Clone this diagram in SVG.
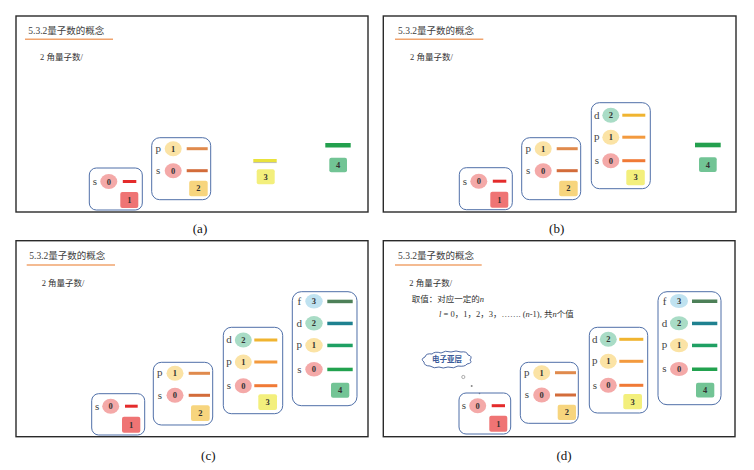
<svg xmlns="http://www.w3.org/2000/svg" width="754" height="470" viewBox="0 0 754 470">
<style>
.frame{fill:#fff;stroke:#2a2a2a;stroke-width:1.4}
.box{fill:none;stroke:#4f6fa8;stroke-width:1}
.t{font-family:"Liberation Serif","Noto Sans CJK SC",serif;fill:#333}
.title{font-size:9.5px;fill:#404040}
.sub{font-size:8.5px}
.ul{stroke:#f0a46e;stroke-width:1.6}
.lt{font-family:"Liberation Serif",serif;font-size:11px;fill:#444;text-anchor:middle}
.nm{font-family:"Liberation Serif",serif;font-size:8.5px;font-weight:bold;fill:#333;text-anchor:middle}
.cap{font-family:"Liberation Serif",serif;font-size:13px;fill:#111;text-anchor:middle}
.e0{fill:#f4a9a8}.e1{fill:#fbe3a5}.e2{fill:#a9dcc6}.e3{fill:#bfe2f0}
.n1{fill:#ef7474}.n2{fill:#f7d57e}.n3{fill:#f3ef7c}.n4{fill:#72c495}
.it{font-style:italic}
</style>

<!-- Panel (a) -->
<g id="panel-a">
<rect class="frame" x="16" y="16" width="352" height="196"/>
<text class="t title" x="28.3" y="33.5">5.3.2量子数的概念</text>
<line class="ul" x1="25" y1="39.3" x2="113" y2="39.3"/>
<text class="t sub" x="40" y="60">2 角量子数/</text>
<g id="a-n1" transform="translate(89.3,168)">
<rect class="box" x="0" y="0" width="53" height="42" rx="7"/>
<text class="lt" x="5.5" y="17">s</text>
<ellipse class="e0" cx="19.5" cy="13.5" rx="8.5" ry="7.5"/><text class="nm" x="19.5" y="16.5">0</text>
<rect x="33.5" y="12" width="13.5" height="3" fill="#e42b2b"/>
<rect class="n1" x="31" y="24" width="18" height="16" rx="2"/><text class="nm" x="40" y="35">1</text>
</g>
<g id="a-n2" transform="translate(151.7,137.7)">
<rect class="box" x="0" y="0" width="59" height="62" rx="8"/>
<text class="lt" x="6.5" y="14">p</text>
<ellipse class="e1" cx="21.5" cy="11" rx="8.5" ry="7.5"/><text class="nm" x="21.5" y="14">1</text>
<rect x="35" y="9.5" width="21" height="3" fill="#e08a4d"/>
<text class="lt" x="6.5" y="36.5">s</text>
<ellipse class="e0" cx="21.5" cy="33" rx="8.5" ry="7.5"/><text class="nm" x="21.5" y="36">0</text>
<rect x="35" y="31.5" width="21" height="3" fill="#d36c3a"/>
<rect class="n2" x="37.5" y="43" width="18.5" height="15.5" rx="2"/><text class="nm" x="46.75" y="53.8">2</text>
</g>
<g id="a-n3">
<rect x="253.3" y="159" width="23.4" height="3" fill="#e9e23c"/>
<line x1="253.3" y1="162.6" x2="276.7" y2="162.6" stroke="#a8a890" stroke-width="0.8"/>
<rect class="n3" x="256.7" y="169.3" width="18" height="15" rx="2"/><text class="nm" x="265.7" y="179.8">3</text>
</g>
<g id="a-n4">
<rect x="325.3" y="143" width="25.4" height="4.5" fill="#23a04e"/>
<rect class="n4" x="329.3" y="157.7" width="17.7" height="14.6" rx="2"/><text class="nm" x="338.2" y="168">4</text>
</g>
<text class="cap" x="200" y="233">(a)</text>
</g>

<!-- Panel (b) -->
<g id="panel-b">
<rect class="frame" x="383.3" y="16" width="352.7" height="196"/>
<text class="t title" x="398" y="33.5">5.3.2量子数的概念</text>
<line class="ul" x1="395" y1="39.3" x2="483.3" y2="39.3"/>
<text class="t sub" x="410" y="60">2 角量子数/</text>
<g id="b-n1" transform="translate(459.3,167.7)">
<rect class="box" x="0" y="0" width="53" height="42" rx="7"/>
<text class="lt" x="5.5" y="17">s</text>
<ellipse class="e0" cx="19.5" cy="13.5" rx="8.5" ry="7.5"/><text class="nm" x="19.5" y="16.5">0</text>
<rect x="33.5" y="12" width="13.5" height="3" fill="#e42b2b"/>
<rect class="n1" x="31" y="24" width="18" height="16" rx="2"/><text class="nm" x="40" y="35">1</text>
</g>
<g id="b-n2" transform="translate(521.7,137.7)">
<rect class="box" x="0" y="0" width="59" height="62" rx="8"/>
<text class="lt" x="6.5" y="14">p</text>
<ellipse class="e1" cx="21.5" cy="11" rx="8.5" ry="7.5"/><text class="nm" x="21.5" y="14">1</text>
<rect x="35" y="9.5" width="21" height="3" fill="#e08a4d"/>
<text class="lt" x="6.5" y="36.5">s</text>
<ellipse class="e0" cx="21.5" cy="33" rx="8.5" ry="7.5"/><text class="nm" x="21.5" y="36">0</text>
<rect x="35" y="31.5" width="21" height="3" fill="#d36c3a"/>
<rect class="n2" x="37.5" y="43" width="18.5" height="15.5" rx="2"/><text class="nm" x="46.75" y="53.8">2</text>
</g>
<g id="b-n3" transform="translate(591.3,102.7)">
<rect class="box" x="0" y="0" width="59" height="86" rx="8"/>
<text class="lt" x="5.5" y="16">d</text>
<ellipse class="e2" cx="19.5" cy="12.5" rx="8.5" ry="7.5"/><text class="nm" x="19.5" y="15.5">2</text>
<rect x="31" y="11" width="23" height="3" fill="#f0b430"/>
<text class="lt" x="5.5" y="37.5">p</text>
<ellipse class="e1" cx="19.5" cy="34.5" rx="8.5" ry="7.5"/><text class="nm" x="19.5" y="37.5">1</text>
<rect x="31" y="33" width="23" height="3" fill="#f39a3e"/>
<text class="lt" x="5.5" y="61.5">s</text>
<ellipse class="e0" cx="19.5" cy="58" rx="8.5" ry="7.5"/><text class="nm" x="19.5" y="61">0</text>
<rect x="31" y="56.5" width="23" height="3" fill="#f07a36"/>
<rect class="n3" x="35" y="67" width="18.5" height="15.5" rx="2"/><text class="nm" x="44.25" y="77.8">3</text>
</g>
<g id="b-n4">
<rect x="695" y="142.7" width="25.7" height="4.6" fill="#23a04e"/>
<rect class="n4" x="699" y="157.3" width="17.7" height="14.7" rx="2"/><text class="nm" x="707.8" y="167.7">4</text>
</g>
<text class="cap" x="556.7" y="233">(b)</text>
</g>

<!-- Panel (c) -->
<g id="panel-c">
<rect class="frame" x="16" y="240.7" width="352" height="196"/>
<text class="t title" x="29.3" y="258.5">5.3.2量子数的概念</text>
<line class="ul" x1="26.7" y1="265" x2="115" y2="265"/>
<text class="t sub" x="41.7" y="286">2 角量子数/</text>
<g id="c-n1" transform="translate(91.7,393.7)">
<rect class="box" x="0" y="0" width="53" height="41.3" rx="7"/>
<text class="lt" x="5.5" y="16">s</text>
<ellipse class="e0" cx="19" cy="12.5" rx="8.5" ry="7.5"/><text class="nm" x="19" y="15.5">0</text>
<rect x="33.3" y="11" width="12.7" height="3" fill="#e42b2b"/>
<rect class="n1" x="30.3" y="23" width="18.3" height="16" rx="2"/><text class="nm" x="39.5" y="34">1</text>
</g>
<g id="c-n2" transform="translate(153.3,362.3)">
<rect class="box" x="0" y="0" width="59.4" height="62.7" rx="8"/>
<text class="lt" x="6.5" y="14">p</text>
<ellipse class="e1" cx="21.7" cy="11" rx="8.5" ry="7.5"/><text class="nm" x="21.7" y="14">1</text>
<rect x="35.4" y="9.5" width="21.3" height="3" fill="#e08a4d"/>
<text class="lt" x="6.5" y="36.5">s</text>
<ellipse class="e0" cx="21.7" cy="33" rx="8.5" ry="7.5"/><text class="nm" x="21.7" y="36">0</text>
<rect x="35.4" y="31.5" width="21.3" height="3" fill="#d36c3a"/>
<rect class="n2" x="37.7" y="43" width="18.7" height="15.7" rx="2"/><text class="nm" x="47" y="54">2</text>
</g>
<g id="c-n3" transform="translate(223.3,327.3)">
<rect class="box" x="0" y="0" width="59.4" height="86.4" rx="8"/>
<text class="lt" x="5.7" y="16.2">d</text>
<ellipse class="e2" cx="20" cy="12.7" rx="8.5" ry="7.5"/><text class="nm" x="20" y="15.7">2</text>
<rect x="31" y="11.2" width="23" height="3" fill="#f0b430"/>
<text class="lt" x="5.7" y="37.7">p</text>
<ellipse class="e1" cx="20" cy="34.7" rx="8.5" ry="7.5"/><text class="nm" x="20" y="37.7">1</text>
<rect x="31" y="33.2" width="23" height="3" fill="#f39a3e"/>
<text class="lt" x="5.7" y="61.9">s</text>
<ellipse class="e0" cx="20" cy="58.4" rx="8.5" ry="7.5"/><text class="nm" x="20" y="61.4">0</text>
<rect x="31" y="56.9" width="23" height="3" fill="#f07a36"/>
<rect class="n3" x="35" y="67" width="18.7" height="15.7" rx="2"/><text class="nm" x="44.35" y="78">3</text>
</g>
<g id="c-n4" transform="translate(292.3,291.7)">
<rect class="box" x="0" y="0" width="64.7" height="114" rx="9"/>
<text class="lt" x="7" y="13.5">f</text>
<ellipse class="e3" cx="21.7" cy="9.6" rx="8.7" ry="7.3"/><text class="nm" x="21.7" y="12.6">3</text>
<rect x="35" y="8" width="25.4" height="3.5" fill="#4d8058"/>
<text class="lt" x="7" y="35.5">d</text>
<ellipse class="e2" cx="21.7" cy="31.6" rx="8.7" ry="7.3"/><text class="nm" x="21.7" y="34.6">2</text>
<rect x="35" y="30" width="25.4" height="3.5" fill="#1f8190"/>
<text class="lt" x="7" y="56.6">p</text>
<ellipse class="e1" cx="21.7" cy="53.6" rx="8.7" ry="7.3"/><text class="nm" x="21.7" y="56.6">1</text>
<rect x="35" y="52" width="25.4" height="3.5" fill="#1fa063"/>
<text class="lt" x="7" y="81">s</text>
<ellipse class="e0" cx="21.7" cy="77.6" rx="8.7" ry="7.3"/><text class="nm" x="21.7" y="80.6">0</text>
<rect x="35" y="76" width="25.4" height="3.5" fill="#22a24f"/>
<rect class="n4" x="38.7" y="91" width="18.3" height="15" rx="2"/><text class="nm" x="47.85" y="101.5">4</text>
</g>
<text class="cap" x="208.3" y="459.5">(c)</text>
</g>

<!-- Panel (d) -->
<g id="panel-d">
<rect class="frame" x="383.3" y="240.7" width="351.7" height="196"/>
<text class="t title" x="398" y="258.5">5.3.2量子数的概念</text>
<line class="ul" x1="395" y1="265" x2="481.7" y2="265"/>
<text class="t sub" x="409.3" y="285.5">2 角量子数/</text>
<text class="t sub" x="411.7" y="302">取值：对应一定的<tspan class="it">n</tspan></text>
<text class="t sub" x="439" y="316.5"><tspan class="it">l</tspan> = 0，1，2，3，……. (<tspan class="it">n</tspan>-1), 共<tspan class="it">n</tspan>个值</text>
<g id="d-cloud">
<path d="M424 362 q-4 -3 1 -5 q1 -4 7 -3 q3 -3 9 -1 q4 -3 10 -1 q5 -2 10 0 q6 -1 7 3 q5 1 2 5 q3 3 -3 4 q-2 3 -9 2 q-4 3 -10 1 q-5 2 -9 0 q-5 2 -9 -1 q-6 0 -6 -4 z" fill="#fff" stroke="#3c5a9a" stroke-width="0.9"/>
<text x="447" y="361.5" font-family="'Noto Sans CJK SC',sans-serif" font-size="7.5" font-weight="bold" fill="#3b5a99" text-anchor="middle">电子亚层</text>
<circle cx="463.3" cy="377" r="1.6" fill="none" stroke="#777" stroke-width="0.6"/>
<circle cx="471.7" cy="386" r="1" fill="#888"/>
<circle cx="479.5" cy="393.5" r="0.8" fill="#888"/>
</g>
<g id="d-n1" transform="translate(459,393)">
<rect class="box" x="0" y="0" width="51.7" height="41" rx="7"/>
<text class="lt" x="5" y="16">s</text>
<ellipse class="e0" cx="18.7" cy="12.7" rx="8.5" ry="7.5"/><text class="nm" x="18.7" y="15.7">0</text>
<rect x="32.7" y="11.2" width="13.3" height="3" fill="#e42b2b"/>
<rect class="n1" x="30.3" y="22.7" width="18" height="16" rx="2"/><text class="nm" x="39.3" y="33.7">1</text>
</g>
<g id="d-n2" transform="translate(520.3,362.3)">
<rect class="box" x="0" y="0" width="58" height="61" rx="8"/>
<text class="lt" x="6.5" y="13.5">p</text>
<ellipse class="e1" cx="21.4" cy="10.4" rx="8.5" ry="7.5"/><text class="nm" x="21.4" y="13.4">1</text>
<rect x="34.7" y="8.9" width="21" height="3" fill="#e08a4d"/>
<text class="lt" x="6.5" y="36">s</text>
<ellipse class="e0" cx="21.4" cy="32.7" rx="8.5" ry="7.5"/><text class="nm" x="21.4" y="35.7">0</text>
<rect x="34.7" y="31.2" width="21" height="3" fill="#d36c3a"/>
<rect class="n2" x="37.4" y="42.4" width="18.3" height="15.3" rx="2"/><text class="nm" x="46.55" y="53.2">2</text>
</g>
<g id="d-n3" transform="translate(589.3,327.3)">
<rect class="box" x="0" y="0" width="58.4" height="85.7" rx="8"/>
<text class="lt" x="5.5" y="15.5">d</text>
<ellipse class="e2" cx="19" cy="12" rx="8.5" ry="7.5"/><text class="nm" x="19" y="15">2</text>
<rect x="30" y="10.5" width="24" height="3" fill="#f0b430"/>
<text class="lt" x="5.5" y="37">p</text>
<ellipse class="e1" cx="19" cy="34" rx="8.5" ry="7.5"/><text class="nm" x="19" y="37">1</text>
<rect x="30" y="32.5" width="24" height="3" fill="#f39a3e"/>
<text class="lt" x="5.5" y="61.5">s</text>
<ellipse class="e0" cx="19" cy="58" rx="8.5" ry="7.5"/><text class="nm" x="19" y="61">0</text>
<rect x="30" y="56.5" width="24" height="3" fill="#f07a36"/>
<rect class="n3" x="34" y="66.7" width="18.7" height="15.3" rx="2"/><text class="nm" x="43.35" y="77.5">3</text>
</g>
<g id="d-n4" transform="translate(658,291.7)">
<rect class="box" x="0" y="0" width="63" height="113" rx="9"/>
<text class="lt" x="6.5" y="13">f</text>
<ellipse class="e3" cx="21" cy="9.3" rx="9" ry="7"/><text class="nm" x="21" y="12.3">3</text>
<rect x="34" y="7.8" width="25.3" height="3.5" fill="#4d8058"/>
<text class="lt" x="6.5" y="35.3">d</text>
<ellipse class="e2" cx="21" cy="31.6" rx="9" ry="7"/><text class="nm" x="21" y="34.6">2</text>
<rect x="34" y="30" width="25.3" height="3.5" fill="#1f8190"/>
<text class="lt" x="6.5" y="56.6">p</text>
<ellipse class="e1" cx="21" cy="53.6" rx="9" ry="7"/><text class="nm" x="21" y="56.6">1</text>
<rect x="34" y="52" width="25.3" height="3.5" fill="#1fa063"/>
<text class="lt" x="6.5" y="80.8">s</text>
<ellipse class="e0" cx="21" cy="77.3" rx="9" ry="7"/><text class="nm" x="21" y="80.3">0</text>
<rect x="34" y="75.8" width="25.3" height="3.5" fill="#22a24f"/>
<rect class="n4" x="38" y="91" width="18.3" height="14.7" rx="2"/><text class="nm" x="47.15" y="101.4">4</text>
</g>
<text class="cap" x="564" y="459.5">(d)</text>
</g>
</svg>
